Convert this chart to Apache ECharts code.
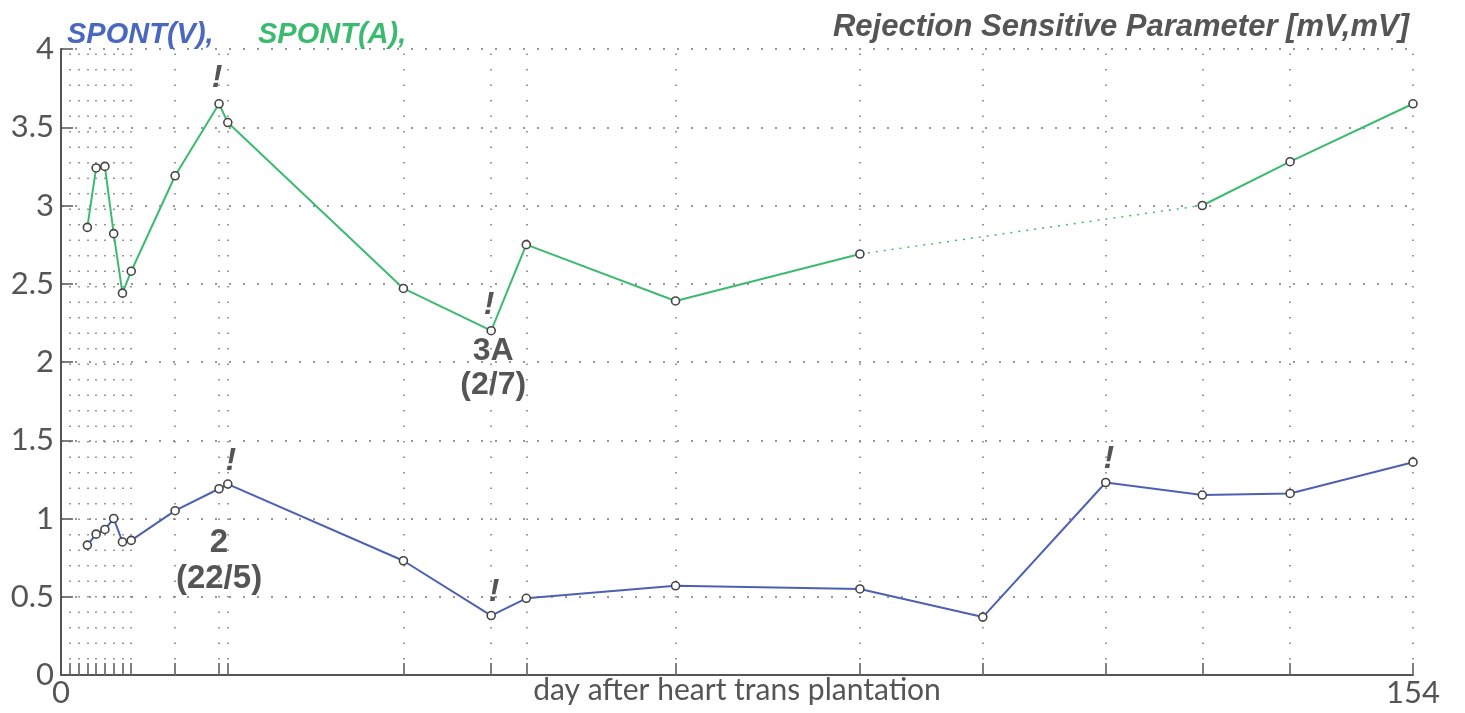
<!DOCTYPE html>
<html>
<head>
<meta charset="utf-8">
<script src="https://cdn.jsdelivr.net/npm/echarts@6/dist/echarts.min.js"></script>
<style>
  html, body { margin: 0; padding: 0; background: #ffffff; }
  #chart { width: 1465px; height: 713px; }
</style>
</head>
<body>
<div id="chart"></div>
<script>
// ---- data ----
const days = [3, 4, 5, 6, 7, 8, 13, 18, 19, 39, 49, 53, 70, 91, 105, 119, 130, 140, 154];
const spontV = [0.83, 0.90, 0.93, 1.00, 0.85, 0.86, 1.05, 1.19, 1.22, 0.73, 0.38, 0.49, 0.57, 0.55, 0.37, 1.23, 1.15, 1.16, 1.36];
const spontA = [2.86, 3.24, 3.25, 2.82, 2.44, 2.58, 3.19, 3.65, 3.53, 2.47, 2.20, 2.75, 2.39, 2.69, null, null, 3.00, 3.28, 3.65];
const tickDays = [1, 2, 3, 4, 5, 6, 7, 8, 13, 18, 19, 39, 49, 53, 70, 91, 105, 119, 130, 140, 154];
const xLabelDays = [0, 154];
const exclaimDaysV = [19, 49, 119];
const exclaimDaysA = [18, 49];
const gradeV = { day: 18, grade: '2', date: '22/5' };
const gradeA = { day: 49, grade: '3A', date: '2/7' };
const seriesNames = ['SPONT(V),', 'SPONT(A),'];
const titleText = 'Rejection Sensitive Parameter [mV,mV]';
const xAxisName = 'day after heart trans plantation';

// ---- helpers ----
const valAt = (arr, d) => arr[days.indexOf(d)];
const dataV = days.map((d, i) => [d, spontV[i]]);
const dataA = days.map((d, i) => [d, spontA[i] == null ? '-' : spontA[i]]);
// bridge over the missing A values (drawn dotted)
const bridgeA = [];
for (let i = 1; i < days.length; i++) {
  if (spontA[i] == null && spontA[i - 1] != null) {
    let j = i;
    while (j < days.length && spontA[j] == null) j++;
    if (j < days.length) bridgeA.push([[days[i - 1], spontA[i - 1]], [days[j], spontA[j]]]);
  }
}

const BLUE = '#4d60b2';
const GREEN = '#3cbb70';
const TXT = '#555555';
const labelFont = 'Lato, "DejaVu Sans", sans-serif';
const boldFont = '"Liberation Sans", Arial, sans-serif';

const exclaimStyle = {
  show: true, formatter: '!', color: TXT, fontFamily: boldFont,
  fontWeight: 'bold', fontStyle: 'italic', fontSize: 32
};

const chart = echarts.init(document.getElementById('chart'), null, { renderer: 'canvas' });
const option = {
  backgroundColor: '#ffffff',
  animation: false,
  title: [
    { text: seriesNames[0], left: 62, top: 15,
      textStyle: { color: '#4a68c0', fontFamily: boldFont, fontWeight: 'bold', fontStyle: 'italic', fontSize: 29 } },
    { text: seriesNames[1], left: 253, top: 15,
      textStyle: { color: GREEN, fontFamily: boldFont, fontWeight: 'bold', fontStyle: 'italic', fontSize: 29 } },
    { text: titleText, right: 51, top: 7,
      textStyle: { color: TXT, fontFamily: boldFont, fontWeight: 'bold', fontStyle: 'italic', fontSize: 31 } }
  ],
  grid: { left: 61, right: 52, top: 49, bottom: 38, containLabel: false, outerBoundsMode: 'none' },
  xAxis: {
    type: 'value', min: 0, max: 154,
    name: xAxisName, nameLocation: 'middle', nameGap: 0, nameMoveOverlap: false,
    nameTextStyle: { color: TXT, fontFamily: labelFont, fontSize: 30, verticalAlign: 'top' },
    axisLine: { show: true, onZero: false, lineStyle: { color: TXT, width: 2 } },
    axisTick: { show: true, inside: true, length: 12, customValues: tickDays, lineStyle: { color: TXT, width: 1.5 } },
    axisLabel: { show: true, customValues: xLabelDays, color: TXT, fontFamily: labelFont, fontSize: 31, margin: 2 },
    splitLine: { show: false }
  },
  yAxis: {
    type: 'value', min: 0, max: 4, interval: 0.5,
    axisLine: { show: true, lineStyle: { color: TXT, width: 2 } },
    axisTick: { show: true, inside: true, length: 12, lineStyle: { color: TXT, width: 1.5 } },
    axisLabel: { color: TXT, fontFamily: labelFont, fontSize: 31, margin: 7 },
    splitLine: { show: true, lineStyle: { color: '#777', width: 1.5, type: [2, 12] } }
  },
  series: [
    {
      name: seriesNames[0], type: 'line', data: dataV,
      symbol: 'circle', symbolSize: 8,
      itemStyle: { color: '#ffffff', borderColor: '#444', borderWidth: 1.6 },
      lineStyle: { color: BLUE, width: 2 },
      z: 5,
      markLine: {
        silent: true, symbol: 'none', animation: false,
        label: { show: false },
        lineStyle: { color: '#777', width: 1.5, type: [1.5, 14] },
        data: tickDays.map(d => ({ xAxis: d }))
      },
      markPoint: {
        silent: true, symbol: 'circle', symbolSize: 0,
        data: exclaimDaysV.map(d => ({
          coord: [d, valAt(spontV, d)],
          label: Object.assign({}, exclaimStyle, { offset: [3, -23] })
        })).concat([{
          coord: [gradeV.day, valAt(spontV, gradeV.day)],
          label: {
            show: true, offset: [0, 72],
            formatter: '{g|' + gradeV.grade + '}\n{d|(' + gradeV.date + ')}',
            rich: {
              g: { color: TXT, fontFamily: boldFont, fontWeight: 'bold', fontSize: 33, lineHeight: 36, align: 'center' },
              d: { color: TXT, fontFamily: boldFont, fontWeight: 'bold', fontSize: 33, lineHeight: 36, align: 'center' }
            }
          }
        }])
      }
    },
    {
      name: seriesNames[1], type: 'line', data: dataA, connectNulls: false,
      symbol: 'circle', symbolSize: 8,
      itemStyle: { color: '#ffffff', borderColor: '#444', borderWidth: 1.6 },
      lineStyle: { color: GREEN, width: 2 },
      z: 5,
      markPoint: {
        silent: true, symbol: 'circle', symbolSize: 0,
        data: exclaimDaysA.map(d => ({
          coord: [d, valAt(spontA, d)],
          label: Object.assign({}, exclaimStyle, { offset: [-2, -26] })
        })).concat([{
          coord: [gradeA.day, valAt(spontA, gradeA.day)],
          label: {
            show: true, offset: [2, 37],
            formatter: '{g|' + gradeA.grade + '}\n{d|(' + gradeA.date + ')}',
            rich: {
              g: { color: TXT, fontFamily: boldFont, fontWeight: 'bold', fontSize: 32, lineHeight: 34, align: 'center' },
              d: { color: TXT, fontFamily: boldFont, fontWeight: 'bold', fontSize: 32, lineHeight: 34, align: 'center' }
            }
          }
        }])
      }
    }
  ].concat(bridgeA.map(seg => ({
    type: 'line', data: seg, symbol: 'none', silent: true, z: 4,
    lineStyle: { color: GREEN, width: 1.5, type: [2, 6] }
  })))
};
chart.setOption(option);
</script>
</body>
</html>
